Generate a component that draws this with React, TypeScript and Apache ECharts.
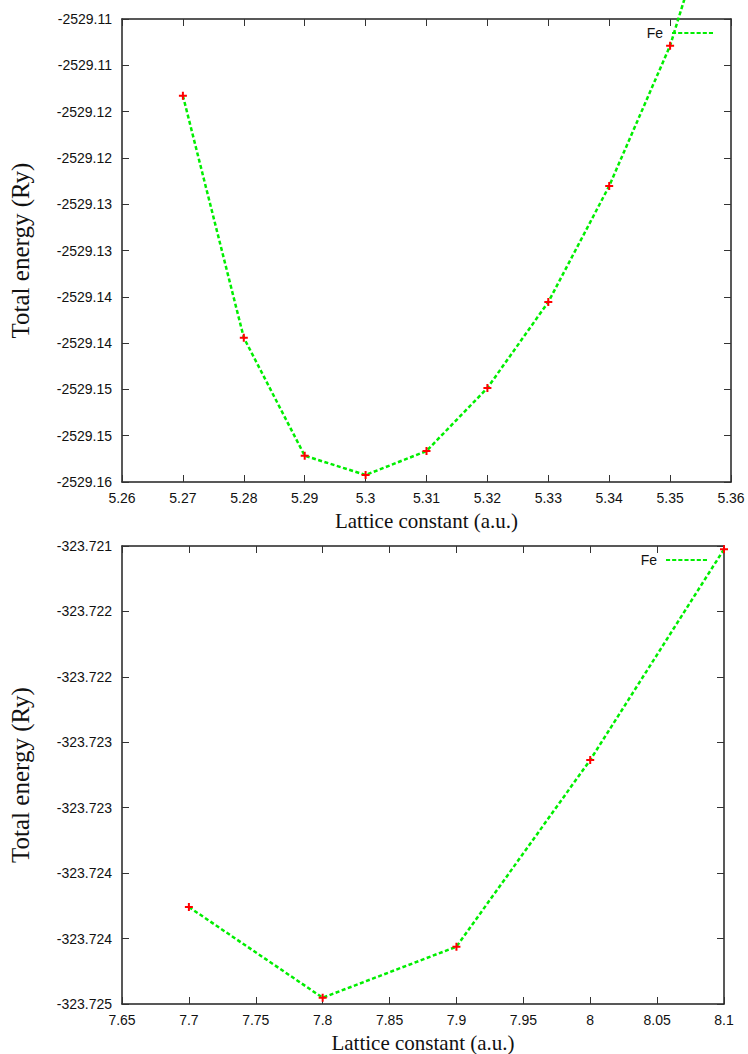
import React, { useEffect, useRef } from "react";
import * as echarts from "echarts";

// ---------- Data ----------
const topLattice = [5.27, 5.28, 5.29, 5.3, 5.31, 5.32, 5.33, 5.34, 5.35, 5.36];
const topEnergy = [
  -2529.118283, -2529.144417, -2529.15716, -2529.159244, -2529.156652,
  -2529.149849, -2529.140562, -2529.128035, -2529.112883, -2529.0915,
];
const bottomLattice = [7.7, 7.8, 7.9, 8.0, 8.1];
const bottomEnergy = [-323.724259, -323.724952, -323.724562, -323.723135, -323.721525];

const topXTicks = ["5.26", "5.27", "5.28", "5.29", "5.3", "5.31", "5.32", "5.33", "5.34", "5.35", "5.36"];
const topYTicks = [
  "-2529.16", "-2529.15", "-2529.15", "-2529.14", "-2529.14", "-2529.13",
  "-2529.13", "-2529.12", "-2529.12", "-2529.11", "-2529.11",
];
const bottomXTicks = ["7.65", "7.7", "7.75", "7.8", "7.85", "7.9", "7.95", "8", "8.05", "8.1"];
const bottomYTicks = [
  "-323.725", "-323.724", "-323.724", "-323.723", "-323.723", "-323.722", "-323.722", "-323.721",
];

const seriesName = "Fe";
const xTitle = "Lattice constant (a.u.)";
const yTitle = "Total energy (Ry)";

// ---------- Styles ----------
const GREEN = "#00ee00";
const RED = "#ff0000";
const SANS = "Liberation Sans, Arial, sans-serif";
const SERIF = "Liberation Serif, Times New Roman, serif";
const PLUS = "path://M3,0h2v3h3v2h-3v3h-2v-3h-3v-2h3z";
const DASH_ICON =
  "path://M0,0h4v2h-4z M6,0h4v2h-4z M12,0h4v2h-4z M18,0h4v2h-4z M24,0h4v2h-4z M30,0h4v2h-4z M36,0h4v2h-4z";

const axisLine = { show: true, lineStyle: { color: "#222", width: 1.5 } };
const axisTick = { show: true, inside: true, length: 7, lineStyle: { color: "#333", width: 1 } };

function labelFrom(labels: string[], min: number, interval: number) {
  return (v: number) => {
    const i = Math.round((v - min) / interval);
    return labels[i] ?? "";
  };
}

function makeX(gridIndex: number, min: number, max: number, interval: number, labels: string[], mirror: boolean) {
  return {
    type: "value",
    gridIndex,
    position: mirror ? "top" : "bottom",
    min,
    max,
    interval,
    axisLine,
    axisTick,
    splitLine: { show: false },
    axisLabel: mirror
      ? { show: false }
      : {
          show: true,
          margin: 9,
          color: "#111",
          fontFamily: SANS,
          fontSize: 14,
          formatter: labelFrom(labels, min, interval),
        },
    name: mirror ? "" : xTitle,
    nameLocation: "middle",
    nameGap: 28,
    nameTextStyle: { fontFamily: SERIF, fontSize: 21, color: "#111" },
  };
}

function makeY(gridIndex: number, min: number, max: number, interval: number, labels: string[], mirror: boolean) {
  return {
    type: "value",
    gridIndex,
    position: mirror ? "right" : "left",
    min,
    max,
    interval,
    scale: true,
    axisLine,
    axisTick,
    splitLine: { show: false },
    axisLabel: mirror
      ? { show: false }
      : {
          show: true,
          margin: 10,
          color: "#111",
          fontFamily: SANS,
          fontSize: 14,
          formatter: labelFrom(labels, min, interval),
        },
    name: mirror ? "" : yTitle,
    nameLocation: "middle",
    nameRotate: 90,
    nameGap: 89,
    nameTextStyle: { fontFamily: SERIF, fontSize: 25, color: "#111" },
  };
}

function makeLegend(right: number, top: number) {
  return {
    show: true,
    data: [seriesName],
    right,
    top,
    padding: 0,
    align: "right",
    orient: "vertical",
    icon: DASH_ICON,
    itemWidth: 41,
    itemHeight: 3,
    itemStyle: { color: GREEN, borderWidth: 0 },
    textStyle: { fontFamily: SANS, fontSize: 14, color: "#111", padding: [0, 4, 0, 0] },
    selectedMode: false,
  };
}

export default function App() {
  const ref = useRef<HTMLDivElement>(null);

  useEffect(() => {
    document.body.style.margin = "0";
    if (!ref.current) return;
    const chart = echarts.init(ref.current, null, { renderer: "svg" });

    const topMinX = 5.26, topMaxX = 5.36, topIntX = 0.01;
    const topMinY = -2529.16, topMaxY = -2529.11, topIntY = 0.005;
    const botMinX = 7.65, botMaxX = 8.1, botIntX = 0.05;
    const botMinY = -323.725, botMaxY = -323.7215, botIntY = 0.0005;

    const lineSeries = (xi: number, yi: number, xs: number[], ys: number[], clip: boolean) => ({
      type: "line",
      name: seriesName,
      xAxisIndex: xi,
      yAxisIndex: yi,
      data: xs.map((x, i) => [x, ys[i]]),
      clip,
      symbol: PLUS,
      symbolSize: 8,
      showAllSymbol: true,
      itemStyle: { color: RED },
      lineStyle: { color: GREEN, width: 2.5, type: [4, 2.5], cap: "butt" },
      emphasis: { disabled: true },
      z: 3,
    });

    chart.setOption({
      animation: false,
      backgroundColor: "#ffffff",
      grid: [
        { left: 116, top: 19, width: 615, height: 463 },
        { left: 115, top: 546, width: 609, height: 458 },
      ],
      xAxis: [
        makeX(0, topMinX, topMaxX, topIntX, topXTicks, false),
        makeX(0, topMinX, topMaxX, topIntX, topXTicks, true),
        makeX(1, botMinX, botMaxX, botIntX, bottomXTicks, false),
        makeX(1, botMinX, botMaxX, botIntX, bottomXTicks, true),
      ],
      yAxis: [
        makeY(0, topMinY, topMaxY, topIntY, topYTicks, false),
        makeY(0, topMinY, topMaxY, topIntY, topYTicks, true),
        makeY(1, botMinY, botMaxY, botIntY, bottomYTicks, false),
        makeY(1, botMinY, botMaxY, botIntY, bottomYTicks, true),
      ],
      legend: [makeLegend(35, 26), makeLegend(41, 553)],
      series: [
        lineSeries(0, 0, topLattice, topEnergy, false),
        lineSeries(2, 2, bottomLattice, bottomEnergy, false),
      ],
    });

    return () => chart.dispose();
  }, []);

  return <div ref={ref} style={{ width: 748, height: 1054 }} />;
}
